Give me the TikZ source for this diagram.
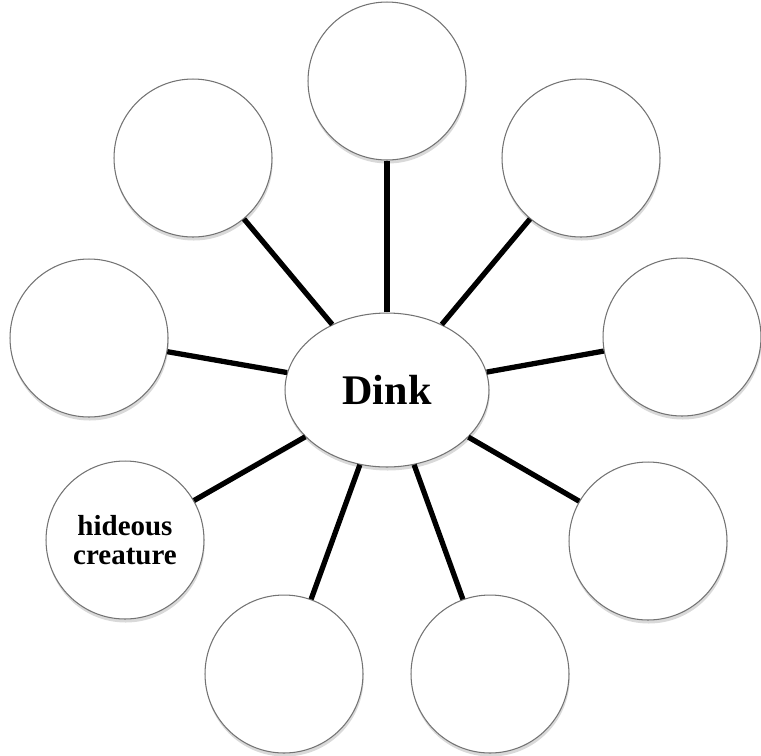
\documentclass[tikz,border=0pt]{standalone}
\usepackage{fontspec}
\setmainfont{Liberation Serif}
\usepackage{tikz}
\usetikzlibrary{shapes.geometric,shadows}

\tikzset{
  bubble/.style={circle,draw=black!55,line width=0.6pt,fill=white,minimum size=3.16cm,inner sep=0pt,
    drop shadow={opacity=0.3,shadow xshift=0.4pt,shadow yshift=-2pt}},
  spoke/.style={line width=3pt,black}
}

\begin{document}
\begin{tikzpicture}[x=0.02cm,y=-0.02cm]
  \useasboundingbox (0,0) rectangle (761,755);
  \node[ellipse,draw=black!55,line width=0.6pt,fill=white,minimum width=4.08cm,minimum height=3.08cm,inner sep=0pt,
    drop shadow={opacity=0.3,shadow xshift=0.4pt,shadow yshift=-2pt},
    font=\bfseries\fontsize{24}{28}\selectfont] (dink) at (387,390){Dink};
  \node[bubble] (top) at (387,81){}; \node[bubble] (topleft) at (193,158){};
  \node[bubble] (topright) at (581,158){}; \node[bubble] (left) at (89,338){};
  \node[bubble] (right) at (682,337){};
  \node[bubble,align=center,font=\bfseries\fontsize{16.5}{16.5}\selectfont] (creature) at (125,540){hideous\\creature};
  \node[bubble] (botright) at (648,541){}; \node[bubble] (botleft) at (284,674){};
  \node[bubble] (botmid) at (490,674){};
  \foreach \n in {top,topleft,topright,left,right,creature,botright,botleft,botmid}
    \draw[spoke] (dink) -- (\n);
\end{tikzpicture}
\end{document}
